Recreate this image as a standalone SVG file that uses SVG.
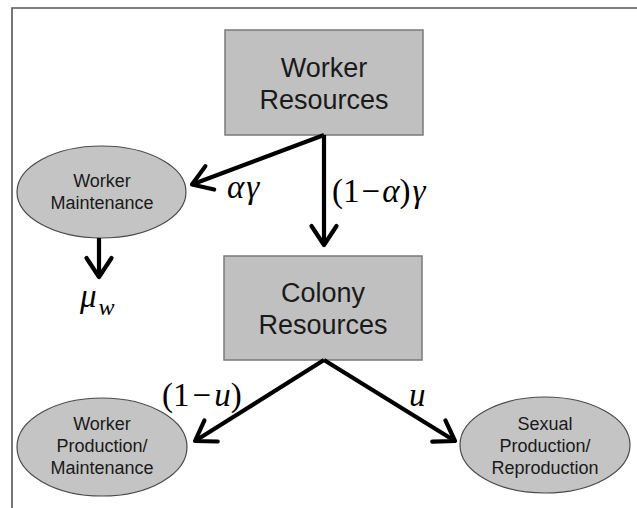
<svg xmlns="http://www.w3.org/2000/svg" width="637" height="508" viewBox="0 0 637 508">
<style>
.box{fill:#c0c0c0;stroke:#7a7a7a;stroke-width:1.5}
.ell{fill:#c4c4c4;stroke:#4a4a4a;stroke-width:1.2}
.bt{font-family:"Liberation Sans",Arial,sans-serif;font-size:27px;fill:#1a1a1a;text-anchor:middle}
.et{font-family:"Liberation Sans",Arial,sans-serif;font-size:18px;fill:#1a1a1a;text-anchor:middle}
.m{font-family:"Liberation Serif","Times New Roman",serif;font-size:33px;fill:#000}
.i{font-style:italic}
.conn{fill:none;stroke:#000;stroke-width:4.2}
</style>
<defs>
<marker id="ah" markerUnits="userSpaceOnUse" markerWidth="40" markerHeight="40" refX="0" refY="0" orient="auto" overflow="visible">
<path d="M-19,-12.5 L0,0 L-19,12.5" fill="none" stroke="#000" stroke-width="4.2" stroke-linejoin="round" stroke-linecap="round"/>
</marker>
</defs>
<rect width="637" height="508" fill="#fff"/>
<path d="M12,508 V8 H637" fill="none" stroke="#555" stroke-width="1.6"/>

<g id="worker-resources">
<rect class="box" x="225" y="30" width="198" height="105"/>
<text class="bt" x="324" y="77">Worker</text>
<text class="bt" x="324" y="109">Resources</text>
</g>

<g id="worker-maintenance">
<ellipse class="ell" cx="101.5" cy="192" rx="84.5" ry="46"/>
<text class="et" x="102" y="187">Worker</text>
<text class="et" x="102" y="209">Maintenance</text>
</g>

<g id="colony-resources">
<rect class="box" x="224" y="256" width="198" height="104"/>
<text class="bt" x="323" y="302">Colony</text>
<text class="bt" x="323" y="334">Resources</text>
</g>

<g id="worker-production">
<ellipse class="ell" cx="102" cy="447" rx="85" ry="49"/>
<text class="et" x="102" y="430">Worker</text>
<text class="et" x="102" y="452">Production/</text>
<text class="et" x="102" y="474">Maintenance</text>
</g>

<g id="sexual-production">
<ellipse class="ell" cx="545" cy="445" rx="85" ry="48"/>
<text class="et" x="545" y="430">Sexual</text>
<text class="et" x="545" y="452">Production/</text>
<text class="et" x="545" y="474">Reproduction</text>
</g>

<g id="mu-w">
<text class="m i" x="80" y="307" font-size="38">μ<tspan font-size="24" dx="2" dy="8">w</tspan></text>
</g>

<g id="connectors">
<path class="conn" d="M324,135 L192,184.5" marker-end="url(#ah)"/>
<path class="conn" d="M324,135 V245" marker-end="url(#ah)"/>
<path class="conn" d="M99,238 V277" marker-end="url(#ah)"/>
<path class="conn" d="M324,360 L195,441" marker-end="url(#ah)"/>
<path class="conn" d="M324,360 L455,441" marker-end="url(#ah)"/>
</g>

<g id="labels">
<text class="m i" x="227" y="198" font-size="37" letter-spacing="2">αγ</text>
<text class="m" x="332" y="202">(1<tspan dx="2">−</tspan><tspan class="i" dx="2">α</tspan>)<tspan class="i" dx="2">γ</tspan></text>
<text class="m" x="162" y="406">(1<tspan dx="3">−</tspan><tspan class="i" dx="3">u</tspan>)</text>
<text class="m i" x="409" y="406">u</text>
</g>
</svg>
